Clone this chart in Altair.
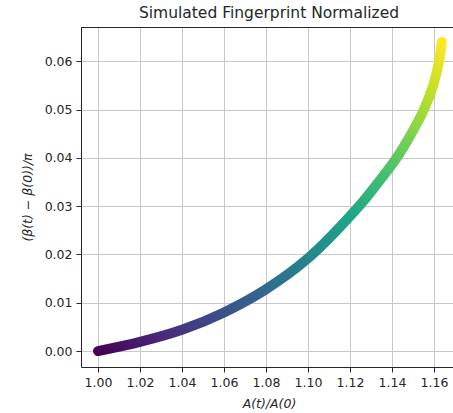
import altair as alt
import pandas as pd

# Values
a_ratio = [1.000, 1.020, 1.040, 1.060, 1.080, 1.100, 1.1243, 1.1336,
           1.1422, 1.1492, 1.1552, 1.1596, 1.1624, 1.1637]
beta_norm = [0.0000, 0.0019, 0.0044, 0.0080, 0.0128, 0.0192, 0.0300, 0.0350,
             0.0400, 0.0450, 0.0500, 0.0550, 0.0600, 0.0640]
x_ticks = [1.00, 1.02, 1.04, 1.06, 1.08, 1.10, 1.12, 1.14, 1.16]
y_ticks = [0.00, 0.01, 0.02, 0.03, 0.04, 0.05, 0.06]
viridis = ["#440154", "#482475", "#414487", "#355f8d", "#2a788e", "#21918c",
           "#22a884", "#44bf70", "#7ad151", "#bddf26", "#fde725"]

df = pd.DataFrame({"x": a_ratio, "y": beta_norm, "order": list(range(len(a_ratio)))})

W, H = 372, 340
FONT = "DejaVu Sans"
INK = "#262626"

x_scale = alt.Scale(domain=[0.9919, 0.9919 + W / 2100], zero=False, nice=False)
y_scale = alt.Scale(domain=[-0.0033, -0.0033 + H / 4830], zero=False, nice=False)

grad = alt.Gradient(
    gradient="linear",
    stops=[alt.GradientStop(offset=i / 10, color=c) for i, c in enumerate(viridis)],
    x1=0, y1=1, x2=1, y2=0,
)

line = alt.Chart(df).mark_line(
    stroke=grad, strokeWidth=10, strokeCap="round", strokeJoin="round",
    interpolate="catmull-rom", clip=True,
).encode(
    x=alt.X("x:Q", scale=x_scale,
            axis=alt.Axis(values=x_ticks, format=".2f", title="A(t)/A(0)",
                          titleFontStyle="italic", titleX=188, titleY=36,
                          titleBaseline="middle", titleAlign="center")),
    y=alt.Y("y:Q", scale=y_scale,
            axis=alt.Axis(values=y_ticks, format=".2f", title="(β(t) − β(0))/π",
                          titleFontStyle="italic", titleX=-54, titleY=170,
                          titleAngle=-90, titleBaseline="middle", titleAlign="center")),
    order="order:Q",
)

top_border = alt.Chart(df).mark_rule(color=INK, strokeWidth=1).encode(
    x=alt.value(0), x2=alt.value(W), y=alt.value(0.5)
)

chart = alt.layer(line, top_border).properties(
    width=W, height=H,
    title=alt.TitleParams("Simulated Fingerprint Normalized", font=FONT, fontSize=15.5,
                          fontWeight="normal", color=INK, anchor="middle", offset=6, dx=2),
    autosize=alt.AutoSizeParams(type="none"),
    padding={"left": 81, "top": 27, "right": 0, "bottom": 46},
).configure(background="white").configure_view(strokeOpacity=0).configure_axis(
    grid=True, gridColor="#c8c8c8", gridWidth=1,
    domainColor=INK, domainWidth=1,
    tickColor=INK, tickSize=5, tickWidth=1,
    labelFont=FONT, labelFontSize=12.5, labelColor=INK, labelPadding=4,
    titleFont=FONT, titleFontSize=12.5, titleFontWeight="normal", titleColor=INK,
)

chart.save("out.html", embed_options={"renderer": "svg", "actions": False})
